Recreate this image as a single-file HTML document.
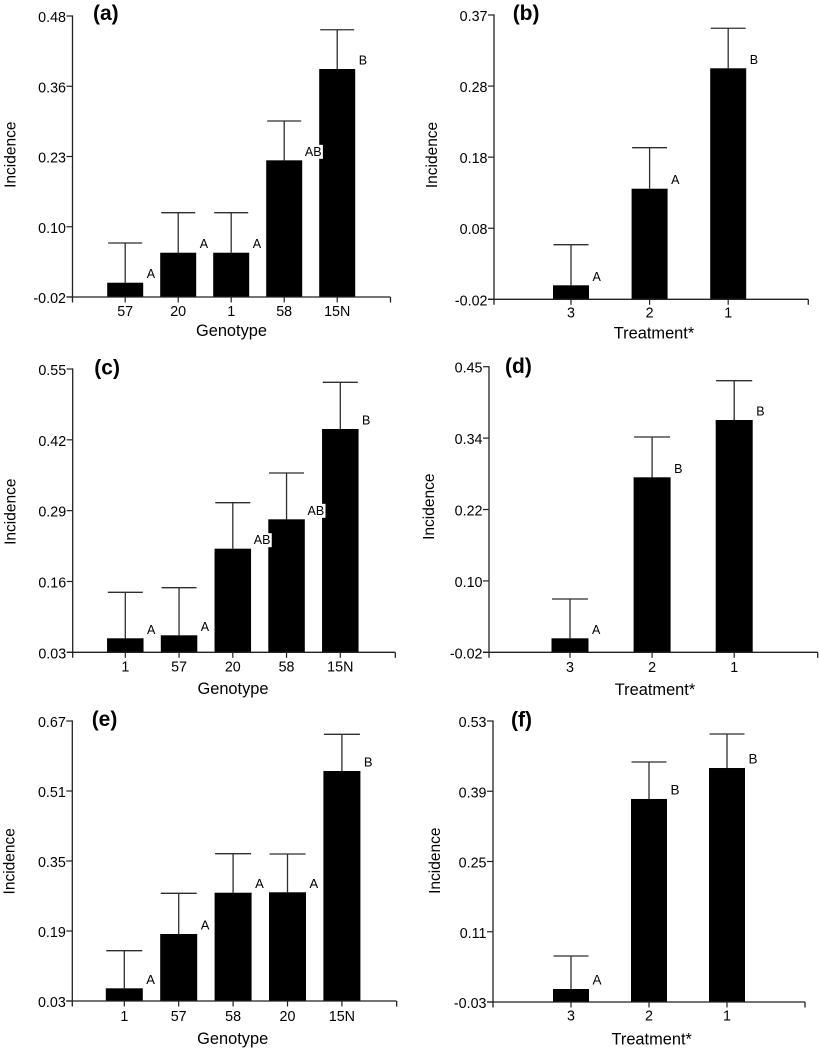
<!DOCTYPE html>
<html lang="en">
<head>
<meta charset="utf-8">
<title>Incidence by genotype and treatment</title>
<style>
  html, body { margin: 0; padding: 0; background: #fff; }
  #figure { display: block; width: 819px; height: 1051px; font-family: "Liberation Sans", Arial, sans-serif; }
</style>
</head>
<body>
<svg id="figure" xmlns="http://www.w3.org/2000/svg" width="819" height="1051" viewBox="0 0 819 1051"></svg>
<script>
// ---- Data ----
const categoriesA = ["57", "20", "1", "58", "15N"];
const meansA = [0.0054, 0.0588, 0.0588, 0.2232, 0.3857];
const upperA = [0.0761, 0.13, 0.13, 0.2932, 0.4556];
const lettersA = ["A", "A", "A", "AB", "B"];
const ticksA = ["-0.02", "0.10", "0.23", "0.36", "0.48"];

const categoriesB = ["3", "2", "1"];
const meansB = [-0.0008, 0.1317, 0.2969];
const upperB = [0.0549, 0.188, 0.3518];
const lettersB = ["A", "A", "B"];
const ticksB = ["-0.02", "0.08", "0.18", "0.28", "0.37"];

const categoriesC = ["1", "57", "20", "58", "15N"];
const meansC = [0.0557, 0.0612, 0.2202, 0.2741, 0.4399];
const upperC = [0.1401, 0.1486, 0.3046, 0.3591, 0.5256];
const lettersC = ["A", "A", "AB", "AB", "B"];
const ticksC = ["0.03", "0.16", "0.29", "0.42", "0.55"];

const categoriesD = ["3", "2", "1"];
const meansD = [0.003, 0.268, 0.3623];
const upperD = [0.0677, 0.3343, 0.427];
const lettersD = ["A", "B", "B"];
const ticksD = ["-0.02", "0.10", "0.22", "0.34", "0.45"];

const categoriesE = ["1", "57", "58", "20", "15N"];
const meansE = [0.059, 0.1831, 0.2775, 0.2785, 0.5557];
const upperE = [0.145, 0.2762, 0.3667, 0.366, 0.6396];
const lettersE = ["A", "A", "A", "A", "B"];
const ticksE = ["0.03", "0.19", "0.35", "0.51", "0.67"];

const categoriesF = ["3", "2", "1"];
const meansF = [-0.0041, 0.3746, 0.4363];
const upperF = [0.0617, 0.4483, 0.5041];
const lettersF = ["A", "B", "B"];
const ticksF = ["-0.03", "0.11", "0.25", "0.39", "0.53"];

// ---- Panel layout ----
const panels = [
  { id: "a", cats: categoriesA, means: meansA, upper: upperA, letters: lettersA, ticks: ticksA,
    axisX: 72.5, top: 16, bottom: 297, right: 390.5, first: 125.2, step: 53, barW: 36, capW: 34,
    xTitle: "Genotype", xTitleX: 231.5, xTitleY: 336, tickY: 316, yTitleX: 15.7, yTitleY: 154.7, tagX: 93, tagY: 20, letterSize: 12.5 },
  { id: "b", cats: categoriesB, means: meansB, upper: upperB, letters: lettersB, ticks: ticksB,
    axisX: 494, top: 15, bottom: 299.3, right: 808.3, first: 571, step: 78.6, barW: 36, capW: 35,
    xTitle: "Treatment*", xTitleX: 654, xTitleY: 338.7, tickY: 317.3, yTitleX: 437, yTitleY: 155, tagX: 512.7, tagY: 20, letterSize: 12.5 },
  { id: "c", cats: categoriesC, means: meansC, upper: upperC, letters: lettersC, ticks: ticksC,
    axisX: 72.7, top: 369, bottom: 652.3, right: 395.3, first: 125.3, step: 53.75, barW: 36.5, capW: 35,
    xTitle: "Genotype", xTitleX: 233, xTitleY: 694, tickY: 671.7, yTitleX: 15.7, yTitleY: 511.7, tagX: 94.3, tagY: 374.5, letterSize: 12.5 },
  { id: "d", cats: categoriesD, means: meansD, upper: upperD, letters: lettersD, ticks: ticksD,
    axisX: 489, top: 366.7, bottom: 652.3, right: 817.7, first: 570, step: 82.1, barW: 37, capW: 36,
    xTitle: "Treatment*", xTitleX: 655, xTitleY: 695, tickY: 672, yTitleX: 434, yTitleY: 506.7, tagX: 505, tagY: 373, letterSize: 12.5 },
  { id: "e", cats: categoriesE, means: meansE, upper: upperE, letters: lettersE, ticks: ticksE,
    axisX: 72.3, top: 721, bottom: 1001, right: 396.7, first: 124.3, step: 54.4, barW: 37, capW: 36,
    xTitle: "Genotype", xTitleX: 232.7, xTitleY: 1044, tickY: 1021, yTitleX: 14.3, yTitleY: 861.3, tagX: 91.7, tagY: 726, letterSize: 13 },
  { id: "f", cats: categoriesF, means: meansF, upper: upperF, letters: lettersF, ticks: ticksF,
    axisX: 493, top: 721, bottom: 1002, right: 805, first: 571, step: 78, barW: 36, capW: 35,
    xTitle: "Treatment*", xTitleX: 651.7, xTitleY: 1044.3, tickY: 1020.7, yTitleX: 440, yTitleY: 860.7, tagX: 511, tagY: 726.7, letterSize: 13.5 }
];

const SVG_NS = "http://www.w3.org/2000/svg";
const root = document.getElementById("figure");
const AXIS_COLOR = "#222";
const ERR_COLOR = "#2e2e2e";
const TEXT_COLOR = "#000";

function make(parent, tag, props, content) {
  const el = document.createElementNS(SVG_NS, tag);
  for (const k in props) el.setAttribute(k, props[k]);
  if (content !== undefined) el.textContent = content;
  parent.appendChild(el);
  return el;
}

panels.forEach(function (p) {
  const g = make(root, "g", {});
  
  

  const yMin = parseFloat(p.ticks[0]);
  const yMax = parseFloat(p.ticks[p.ticks.length - 1]);
  const yPos = function (v) { return p.bottom - (v - yMin) / (yMax - yMin) * (p.bottom - p.top); };
  const xPos = function (i) { return p.first + i * p.step; };

  // bars
  p.means.forEach(function (m, i) {
    const cx = xPos(i), yT = yPos(m), yU = yPos(p.upper[i]);

    const stem = make(g, "line", { x1: cx, x2: cx, y1: yU, y2: yT, stroke: ERR_COLOR, "stroke-width": 1.3 });
    
    

    const cap = make(g, "line", { x1: cx - p.capW / 2, x2: cx + p.capW / 2, y1: yU, y2: yU, stroke: ERR_COLOR, "stroke-width": 1.3 });
    
    

    const bar = make(g, "rect", { x: cx - p.barW / 2, y: yT, width: p.barW, height: p.bottom - yT, fill: "#000" });
    
    
  });

  // significance letters (drawn after every bar so the white plates overlap neighbours)
  p.means.forEach(function (m, i) {
    const letter = p.letters[i];
    const right = xPos(i) + p.barW / 2;
    const ly = yPos(m) - 4.5;
    const lx = right + (letter.length > 1 ? 2.7 : 3.5);
    if (letter.length > 1) {
      const plate = make(g, "rect", { x: lx - 1, y: ly - 11, width: 19, height: 14, fill: "#fff" });
      
      
    }
    const t = make(g, "text", { x: lx, y: ly, "font-size": p.letterSize, fill: TEXT_COLOR }, letter);
    
    
  });

  // axes
  const yAxis = make(g, "line", { x1: p.axisX, x2: p.axisX, y1: p.top - 0.6, y2: p.bottom + 5.5, stroke: AXIS_COLOR, "stroke-width": 1.3 });
  
  

  const xAxis = make(g, "line", { x1: p.axisX - 6, x2: p.right, y1: p.bottom, y2: p.bottom, stroke: AXIS_COLOR, "stroke-width": 1.3 });
  
  

  const xEnd = make(g, "line", { x1: p.right, x2: p.right, y1: p.bottom, y2: p.bottom + 5.5, stroke: AXIS_COLOR, "stroke-width": 1.3 });
  
  

  // y ticks: evenly spaced between the axis ends, labels are rounded values
  p.ticks.forEach(function (label, i) {
    const y = yPos(yMin + i / (p.ticks.length - 1) * (yMax - yMin));
    const tick = make(g, "line", { x1: p.axisX - 6, x2: p.axisX, y1: y, y2: y, stroke: AXIS_COLOR, "stroke-width": 1.2 });
    
    
    const t = make(g, "text", { x: p.axisX - 6.5, y: y + 6, "font-size": 14.3, "text-anchor": "end", fill: TEXT_COLOR }, label);
    
    
  });

  // x ticks
  p.cats.forEach(function (c, i) {
    const x = xPos(i);
    const tick = make(g, "line", { x1: x, x2: x, y1: p.bottom, y2: p.bottom + 5.5, stroke: AXIS_COLOR, "stroke-width": 1.2 });
    
    
    const t = make(g, "text", { x: x, y: p.tickY, "font-size": 14.3, "text-anchor": "middle", fill: TEXT_COLOR }, c);
    
    
  });

  // titles
  const xt = make(g, "text", { x: p.xTitleX, y: p.xTitleY, "font-size": 16.4, "text-anchor": "middle", fill: TEXT_COLOR }, p.xTitle);
  
  

  const yt = make(g, "text", { "font-size": 15.5, "text-anchor": "middle", fill: TEXT_COLOR,
    transform: "translate(" + p.yTitleX + "," + p.yTitleY + ") rotate(-90)" }, "Incidence");
  
  

  const tag = make(g, "text", { x: p.tagX, y: p.tagY, "font-size": 21, "font-weight": "bold", fill: "#000" }, "(" + p.id + ")");
  
  
});
</script>
</body>
</html>
